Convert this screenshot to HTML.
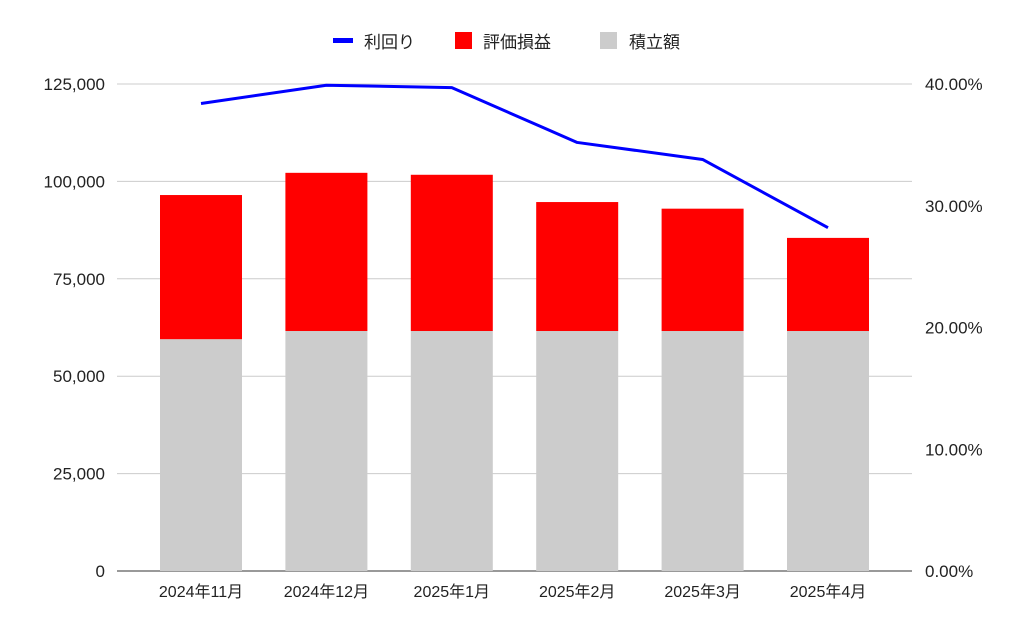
<!DOCTYPE html>
<html><head><meta charset="utf-8"><style>
html,body{margin:0;padding:0;background:#fff;}
svg{display:block;font-family:"Liberation Sans","Noto Sans CJK JP",sans-serif;}
</style></head><body>
<svg id="chart" width="1024" height="634" viewBox="0 0 1024 634">
<g id="legend">
  <g><rect x="333" y="38" width="20" height="5" fill="#0000ff"/><text x="364" y="48" font-size="17" fill="#222">利回り</text></g>
  <g><rect x="455" y="32" width="17" height="17" fill="#ff0000"/><text x="483" y="48" font-size="17" fill="#222">評価損益</text></g>
  <g><rect x="600" y="32" width="17" height="17" fill="#cccccc"/><text x="629" y="48" font-size="17" fill="#222">積立額</text></g>
</g>
<g id="grid"></g>
<g id="bars"></g>
<g id="line"></g>
<g id="axes"></g>
</svg>
<script>
const categories = ["2024年11月","2024年12月","2025年1月","2025年2月","2025年3月","2025年4月"];
const contribution = [59500,61600,61600,61600,61600,61600];
const gain = [37000,40600,40100,33100,31400,23900];
const yieldPct = [38.4,39.9,39.7,35.2,33.8,28.2];
const leftTicks = [0,25000,50000,75000,100000,125000];
const rightTicks = [0,10,20,30,40];

const NS="http://www.w3.org/2000/svg";
const y0=571, yTop=84;
const yL=v=>y0-(v/125000)*(y0-yTop);
const yR=p=>y0-(p/40)*(y0-yTop);
const xC=i=>201+i*125.4;
function mk(t,a,parent){const e=document.createElementNS(NS,t);for(const k in a)e.setAttribute(k,a[k]);parent.appendChild(e);return e;}
const grid=document.getElementById('grid'),bars=document.getElementById('bars'),line=document.getElementById('line'),axes=document.getElementById('axes');

leftTicks.forEach(v=>{
  const g=mk('line',{x1:117,x2:912,y1:yL(v),y2:yL(v),stroke:v===0?'#333':'#ccc','stroke-width':1},grid);
  
  
  const t=mk('text',{x:105,y:yL(v)+6,'text-anchor':'end','font-size':17,fill:'#222'},axes);
  t.textContent=v.toLocaleString('en-US');
  
  
});
rightTicks.forEach(p=>{
  const t=mk('text',{x:925,y:yR(p)+6,'font-size':17,fill:'#222'},axes);
  t.textContent=p.toFixed(2)+'%';
  
  
});
categories.forEach((c,i)=>{
  const w=82,x=xC(i)-w/2;
  const r1=mk('rect',{x:x,y:yL(contribution[i]),width:w,height:y0-yL(contribution[i]),fill:'#cccccc'},bars);
  
  
  const top=contribution[i]+gain[i];
  const r2=mk('rect',{x:x,y:yL(top),width:w,height:yL(contribution[i])-yL(top),fill:'#ff0000'},bars);
  
  
  const t=mk('text',{x:xC(i),y:597,'text-anchor':'middle','font-size':16,fill:'#222'},axes);
  t.textContent=c;
  
  
});
const pts=yieldPct.map((p,i)=>xC(i)+','+yR(p)).join(' ');
const pl=mk('polyline',{points:pts,fill:'none',stroke:'#0000ff','stroke-width':3,'stroke-linejoin':'round'},line);


</script>
</body></html>
